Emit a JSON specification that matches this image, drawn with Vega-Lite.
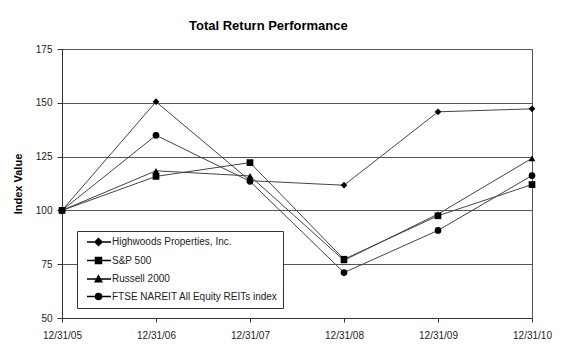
{
  "$schema": "https://vega.github.io/schema/vega-lite/v6.json",
  "autosize": "none",
  "width": 470,
  "height": 269,
  "padding": {"left": 62, "top": 49, "right": 33, "bottom": 33},
  "background": "white",
  "title": {
    "text": "Total Return Performance",
    "anchor": "start",
    "frame": "group",
    "dx": 127,
    "offset": 11,
    "font": "Liberation Sans",
    "fontSize": 13,
    "fontWeight": "bold",
    "color": "#000"
  },
  "data": {
    "values": [
      {"date": "12/31/05", "series": "Highwoods Properties, Inc.", "value": 100},
      {"date": "12/31/06", "series": "Highwoods Properties, Inc.", "value": 150.5},
      {"date": "12/31/07", "series": "Highwoods Properties, Inc.", "value": 113.8},
      {"date": "12/31/08", "series": "Highwoods Properties, Inc.", "value": 111.7},
      {"date": "12/31/09", "series": "Highwoods Properties, Inc.", "value": 145.8},
      {"date": "12/31/10", "series": "Highwoods Properties, Inc.", "value": 147.2},
      {"date": "12/31/05", "series": "S&P 500", "value": 100},
      {"date": "12/31/06", "series": "S&P 500", "value": 115.8},
      {"date": "12/31/07", "series": "S&P 500", "value": 122.2},
      {"date": "12/31/08", "series": "S&P 500", "value": 77.3},
      {"date": "12/31/09", "series": "S&P 500", "value": 97.5},
      {"date": "12/31/10", "series": "S&P 500", "value": 112.0},
      {"date": "12/31/05", "series": "Russell 2000", "value": 100},
      {"date": "12/31/06", "series": "Russell 2000", "value": 118.4},
      {"date": "12/31/07", "series": "Russell 2000", "value": 116.0},
      {"date": "12/31/08", "series": "Russell 2000", "value": 76.8},
      {"date": "12/31/09", "series": "Russell 2000", "value": 98.3},
      {"date": "12/31/10", "series": "Russell 2000", "value": 124.2},
      {"date": "12/31/05", "series": "FTSE NAREIT All Equity REITs index", "value": 100},
      {"date": "12/31/06", "series": "FTSE NAREIT All Equity REITs index", "value": 134.9},
      {"date": "12/31/07", "series": "FTSE NAREIT All Equity REITs index", "value": 113.5},
      {"date": "12/31/08", "series": "FTSE NAREIT All Equity REITs index", "value": 71.1},
      {"date": "12/31/09", "series": "FTSE NAREIT All Equity REITs index", "value": 90.7},
      {"date": "12/31/10", "series": "FTSE NAREIT All Equity REITs index", "value": 116.2}
    ]
  },
  "encoding": {
    "x": {
      "field": "date",
      "type": "ordinal",
      "sort": null,
      "scale": {"type": "point", "padding": 0},
      "axis": {
        "title": null,
        "labelAngle": 0,
        "grid": false,
        "domainColor": "#333",
        "tickColor": "#333",
        "tickSize": 4,
        "labelPadding": 8,
        "labelFont": "Liberation Sans",
        "labelFontSize": 10,
        "labelColor": "#222"
      }
    },
    "y": {
      "field": "value",
      "type": "quantitative",
      "scale": {"domain": [50, 175], "nice": false, "zero": false},
      "axis": {
        "title": "Index Value",
        "titleFont": "Liberation Sans",
        "titleFontSize": 11,
        "titleFontWeight": "bold",
        "titleColor": "#000",
        "titlePadding": 12,
        "values": [50, 75, 100, 125, 150, 175],
        "grid": true,
        "gridColor": "#555",
        "gridOpacity": 1,
        "domainColor": "#333",
        "tickColor": "#333",
        "tickSize": 5,
        "labelPadding": 5,
        "labelFont": "Liberation Sans",
        "labelFontSize": 10,
        "labelColor": "#222"
      }
    }
  },
  "layer": [
    {
      "mark": {"type": "line", "color": "#444", "strokeWidth": 1},
      "encoding": {"detail": {"field": "series"}}
    },
    {
      "mark": {"type": "point", "filled": true, "color": "#000", "opacity": 1, "size": 45},
      "encoding": {
        "shape": {
          "field": "series",
          "sort": null,
          "scale": {
            "domain": ["Highwoods Properties, Inc.", "S&P 500", "Russell 2000", "FTSE NAREIT All Equity REITs index"],
            "range": ["diamond", "square", "triangle-up", "circle"]
          },
          "legend": null
        }
      }
    },
    {
      "mark": {"type": "point", "filled": true, "fill": "#000", "stroke": "#000", "opacity": 0},
      "encoding": {
        "shape": {
          "field": "series",
          "sort": null,
          "scale": {
            "domain": ["Highwoods Properties, Inc.", "S&P 500", "Russell 2000", "FTSE NAREIT All Equity REITs index"],
            "range": [
              "M-0.2,0H4.6M2.1,-0.7L2.8,0L2.1,0.7L1.4,0Z",
              "M-0.2,0H4.6M1.5,-0.6H2.7V0.6H1.5Z",
              "M-0.2,0H4.6M2.1,-0.65L2.75,0.55H1.45Z",
              "M-0.2,0H4.6M1.5,0A0.6,0.6 0 1,0 2.7,0A0.6,0.6 0 1,0 1.5,0Z"
            ]
          },
          "legend": {
            "title": null,
            "orient": "none",
            "legendX": 15,
            "legendY": 182,
            "padding": 5,
            "strokeColor": "#333",
            "fillColor": "white",
            "symbolSize": 100,
            "symbolOpacity": 1,
            "labelOffset": 18,
            "labelFont": "Liberation Sans",
            "labelFontSize": 10,
            "labelColor": "#222",
            "labelLimit": 300,
            "rowPadding": 5.5,
            "encode": {
              "symbols": {
                "update": {
                  "fill": {"value": "#000"},
                  "stroke": {"value": "#333"},
                  "strokeWidth": {"value": 1},
                  "opacity": {"value": 1},
                  "fillOpacity": {"value": 1},
                  "strokeOpacity": {"value": 1}
                }
              }
            }
          }
        }
      }
    }
  ],
  "resolve": {"scale": {"shape": "independent"}},
  "config": {
    "view": {"stroke": "#555", "strokeWidth": 1}
  }
}
